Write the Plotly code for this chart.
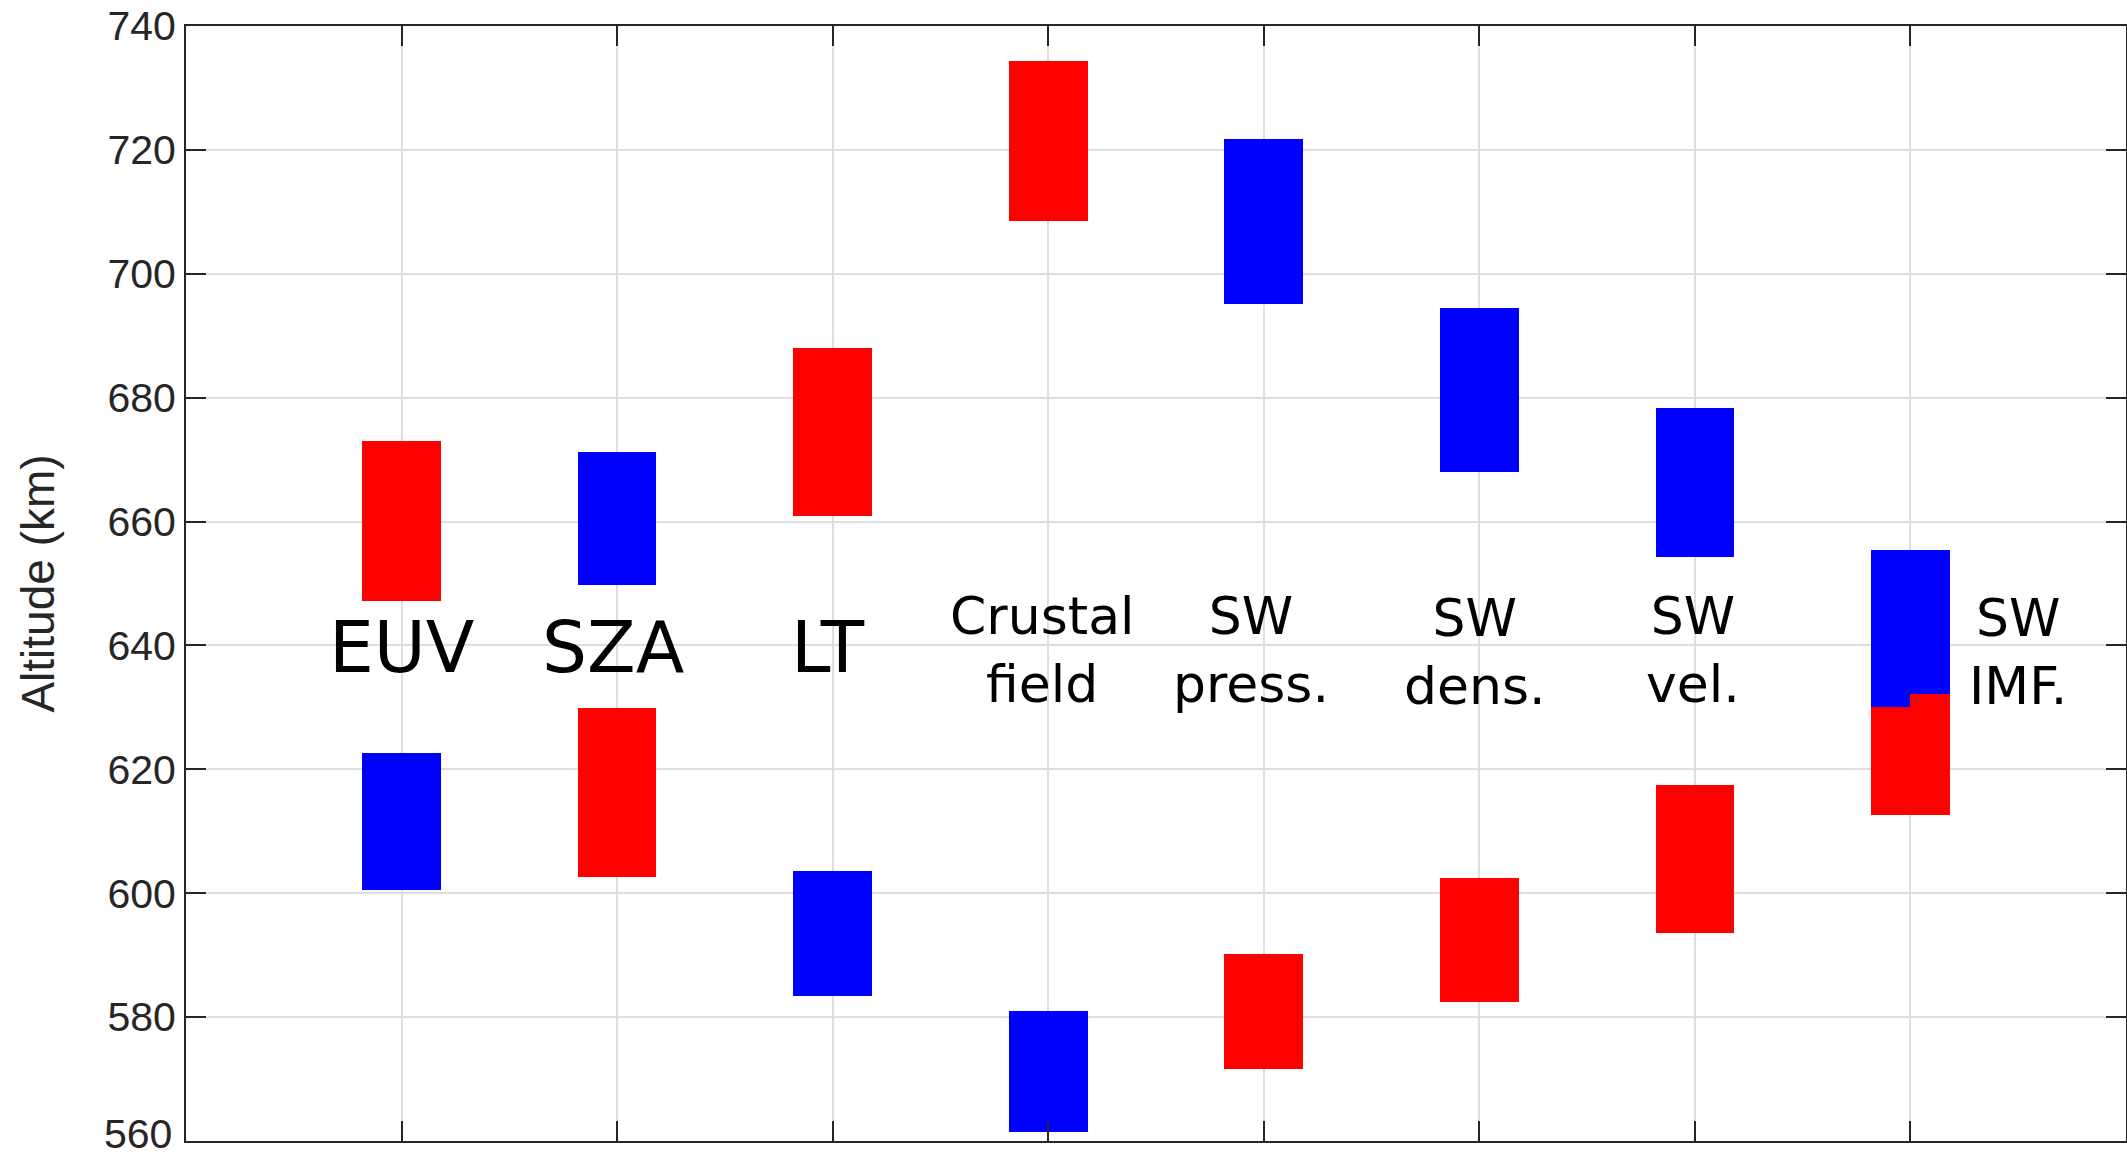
import plotly.graph_objects as go

# ---- data ----
categories = ["EUV", "SZA", "LT", "Crustal<br>field", "SW<br>press.", "SW<br>dens.", "SW<br>vel.", "SW<br>IMF."]
x_pos = [1, 2, 3, 4, 5, 6, 7, 8]
label_x = [1.0, 1.98, 2.98, 3.97, 4.94, 5.98, 6.99, 8.5]
label_y = [639.6, 639.6, 639.6, 639.3, 639.3, 639.0, 639.3, 639.0]
label_size = [71, 71, 71, 52, 52, 52, 52, 52]

red_low = [647.2, 602.7, 660.9, 708.5, 571.6, 582.5, 593.5, 612.7]
red_high = [673.0, 629.9, 688.0, 734.3, 590.2, 602.4, 617.5, 630.0]
blue_low = [600.6, 649.8, 583.4, 561.5, 695.2, 668.0, 654.3, 630.0]
blue_high = [622.6, 671.2, 603.6, 581.0, 721.8, 694.5, 678.3, 655.4]

# small red notch visible on the right half of the SW IMF pair
notch_x = [8]
notch_low = [630.0]
notch_high = [632.2]

y_ticks = [560, 580, 600, 620, 640, 660, 680, 700, 720, 740]

BAR_W = 0.365
RED = "#ff0000"
BLUE = "#0000ff"
AX = "#262626"
TICK_FONT = dict(family="Liberation Sans, Arial, sans-serif", size=41, color=AX)

fig = go.Figure()
fig.add_trace(go.Bar(
    x=x_pos, base=red_low, y=[h - l for h, l in zip(red_high, red_low)],
    width=BAR_W, marker=dict(color=RED, line=dict(width=0)), showlegend=False,
))
fig.add_trace(go.Bar(
    x=x_pos, base=blue_low, y=[h - l for h, l in zip(blue_high, blue_low)],
    width=BAR_W, marker=dict(color=BLUE, line=dict(width=0)), showlegend=False,
))
fig.add_trace(go.Bar(
    x=notch_x, base=notch_low, y=[h - l for h, l in zip(notch_high, notch_low)],
    width=BAR_W / 2, offset=0, marker=dict(color=RED, line=dict(width=0)), showlegend=False,
))

for txt, lx, ly, fs in zip(categories, label_x, label_y, label_size):
    fig.add_annotation(
        x=lx, y=ly, xref="x", yref="y", text=txt, showarrow=False,
        xanchor="center", yanchor="middle",
        font=dict(family="DejaVu Sans", size=fs, color="#000000"),
    )

# lowest tick label sits at the very bottom edge; place it so it stays inside the page
tick_text = [str(v) for v in y_ticks]
tick_text[0] = ""
fig.add_annotation(
    x=0, y=y_ticks[0], xref="paper", yref="y", text=str(y_ticks[0]), showarrow=False,
    xanchor="right", yanchor="bottom", xshift=-13, yshift=-17, borderpad=0,
    font=TICK_FONT,
)

fig.update_layout(
    width=2127, height=1158,
    margin=dict(l=186, r=1, t=26, b=17, autoexpand=False),
    paper_bgcolor="white", plot_bgcolor="white",
    barmode="overlay", bargap=0,
    font=dict(family="Liberation Sans, Arial, sans-serif", color=AX),
)
fig.update_xaxes(
    range=[0, 9], tickvals=x_pos, ticktext=[""] * len(x_pos),
    showgrid=True, gridcolor="#dedede", gridwidth=2,
    ticks="inside", ticklen=20, tickwidth=2, tickcolor=AX,
    showline=True, linecolor=AX, linewidth=2, mirror="ticks",
    zeroline=False, fixedrange=True, automargin=False,
)
fig.update_yaxes(
    range=[560, 740], tickvals=y_ticks, ticktext=tick_text,
    showgrid=True, gridcolor="#dedede", gridwidth=2,
    ticks="inside", ticklen=20, tickwidth=2, tickcolor=AX,
    showline=True, linecolor=AX, linewidth=2, mirror="ticks",
    zeroline=False, fixedrange=True, ticklabeloverflow="allow", automargin=False,
    tickfont=TICK_FONT,
    title=dict(text="Altitude (km)", font=dict(family="Liberation Sans, Arial, sans-serif", size=46, color=AX), standoff=38),
)

fig.write_html("out.html")
